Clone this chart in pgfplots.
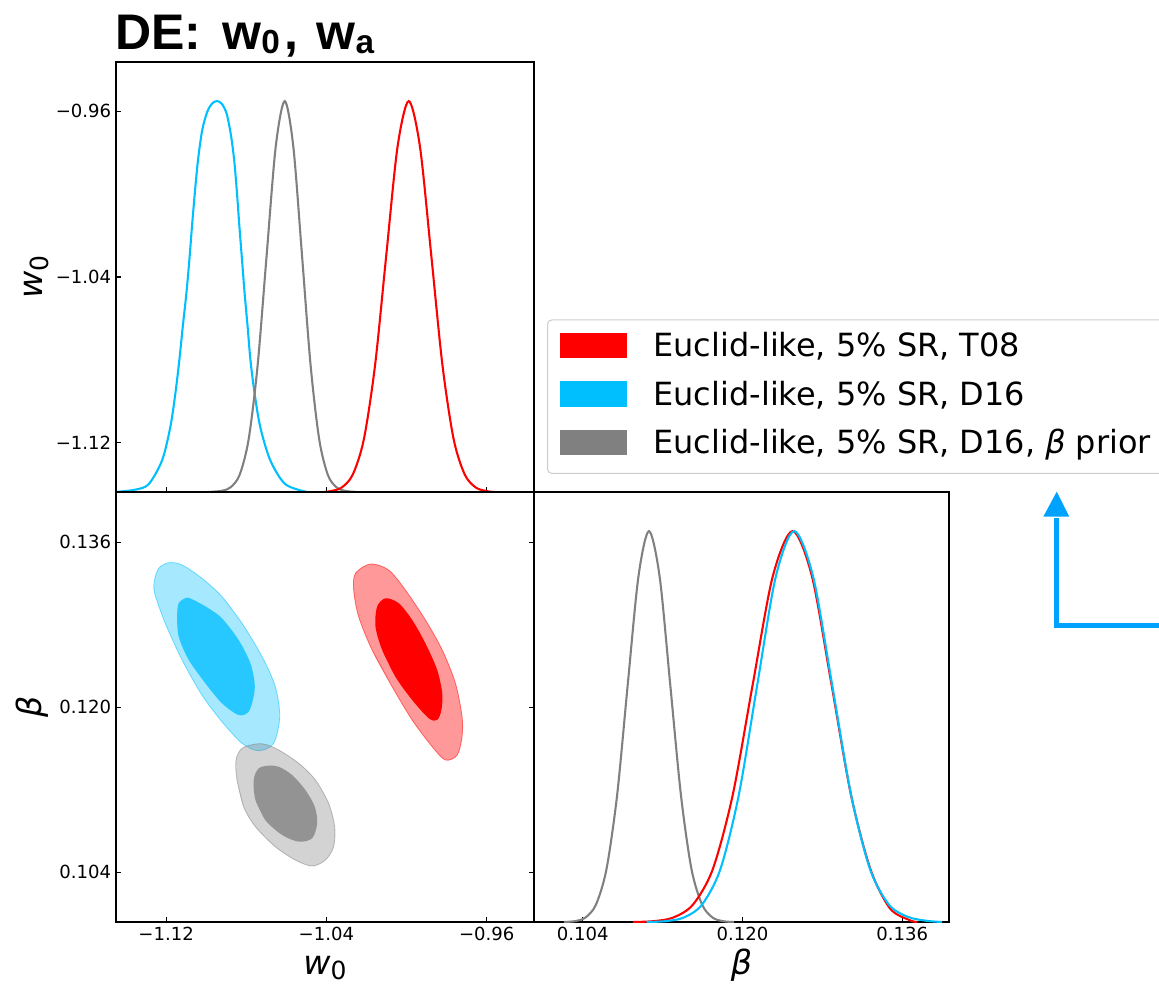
\documentclass[border=0pt]{standalone}
\usepackage{fontspec}
\setmainfont{DejaVu Sans}
\newfontfamily\titlefont{Liberation Sans}
\usepackage{pgfplots}
\pgfplotsset{compat=1.18}

\definecolor{dsblue}{RGB}{0,191,255}
\definecolor{innerblue}{RGB}{38,200,255}
\definecolor{innergray}{RGB}{147,147,147}
\definecolor{legendedge}{RGB}{204,204,204}
\definecolor{arrowblue}{RGB}{0,162,255}

\pgfplotsset{
  cornerpanel/.style={
    scale only axis,
    anchor=south west,
    width=300.96pt, height=309.6pt,
    tick align=inside,
    major tick length=3.6pt,
    major tick style={black, line width=0.8pt},
    axis line style={black, line width=0.8pt},
    tick label style={font=\fontsize{13}{15}\selectfont},
    label style={font=\fontsize{24}{28}\selectfont},
  },
  marg/.style={smooth, line width=1.5pt, forget plot},
}

\newcommand{\wlabel}{\textit{w}\raisebox{-4.2pt}{\fontsize{18}{18}\selectfont 0}}
\newcommand{\legpatch}[1]{\fill[#1] (0pt,-0.35pt) rectangle (47.7pt,17.15pt); \path (67.1pt,0pt);}

\begin{document}
\begin{tikzpicture}
\path[use as bounding box] (0pt,0pt) rectangle (834.48pt,709.2pt);
\clip (0pt,0pt) rectangle (834.48pt,709.2pt);

% title
\node[anchor=base west, inner sep=0pt] at (82.8pt,673.2pt)
  {\titlefont\bfseries\fontsize{36}{40}\selectfont DE:\hspace{15.1pt}w\raisebox{-2.4pt}{\fontsize{24}{26}\selectfont 0}\kern3.6pt,\hspace{13pt}w\raisebox{-2.4pt}{\fontsize{24}{26}\selectfont a}};

% legend frame
\begin{scope}[x=0.72pt, y=0.72pt]
\draw[legendedge, fill=white, line width=0.72pt, rounded corners=3pt]
  (547.5,511.7) rectangle (1180,665);
% corner arrow
\draw[arrowblue, line width=3.6pt, line join=miter]
  (1175,359.2) -- (1056.7,359.2) -- (1056.7,467);
\fill[arrowblue] (1043.3,468.3) -- (1069.3,468.3) -- (1056.7,493.3) -- cycle;
\end{scope}

% ---------- w0 marginal ----------
\begin{axis}[cornerpanel, at={(83.52pt,354.96pt)},
  xmin=-1.145, xmax=-0.9364, ymin=0, ymax=1.1,
  xtick={-1.12,-1.04,-0.96}, xticklabels={,,}, xtick pos=left,
  ytick={0.126,0.55,0.974}, yticklabels={−1.12,−1.04,−0.96}, ytick pos=left,
  ylabel={\wlabel},
  ylabel style={at={(axis description cs:-0.1748,0.5)}, anchor=base},
  legend cell align=left,
  legend style={at={(1.0617,0.370)}, anchor=north west, draw=none, fill=none,
    inner sep=0pt, outer sep=0pt, row sep=12.56pt,
    font=\fontsize{23}{27}\selectfont,
    nodes={inner sep=0pt, anchor=base west, text height=17pt, text depth=5pt}},
]
\addplot[marg, dsblue] coordinates {
(-1.1453,0.000) (-1.1354,0.006) (-1.1287,0.020) (-1.1220,0.081) (-1.1179,0.166)
(-1.1154,0.251) (-1.1134,0.337) (-1.1117,0.422) (-1.1099,0.507) (-1.1084,0.593)
(-1.1071,0.678) (-1.1057,0.763) (-1.1041,0.848) (-1.1020,0.925) (-1.0995,0.972)
(-1.0970,0.994) (-1.0946,1.000) (-1.0922,0.993) (-1.0898,0.968) (-1.0877,0.915)
(-1.0860,0.848) (-1.0846,0.763) (-1.0834,0.678) (-1.0821,0.593) (-1.0808,0.507)
(-1.0793,0.422) (-1.0779,0.337) (-1.0758,0.251) (-1.0730,0.166) (-1.0680,0.081)
(-1.0605,0.020) (-1.0496,0.000)};
\addplot[marg, gray] coordinates {
(-1.0990,0.000) (-1.0923,0.003) (-1.0878,0.012) (-1.0833,0.044) (-1.0788,0.135)
(-1.0743,0.325) (-1.0698,0.607) (-1.0653,0.883) (-1.0608,1.000) (-1.0565,0.883)
(-1.0522,0.607) (-1.0479,0.325) (-1.0436,0.135) (-1.0393,0.044) (-1.0350,0.012)
(-1.0307,0.003) (-1.0250,0.000)};
\addplot[marg, red] coordinates {
(-1.0410,0.000) (-1.0381,0.002) (-1.0325,0.011) (-1.0269,0.044) (-1.0213,0.135)
(-1.0157,0.325) (-1.0101,0.607) (-1.0045,0.883) (-0.9989,1.000) (-0.9933,0.883)
(-0.9877,0.607) (-0.9821,0.325) (-0.9765,0.135) (-0.9709,0.044) (-0.9653,0.011)
(-0.9597,0.002) (-0.9560,0.000)};
\addlegendimage{legend image code/.code={\legpatch{red}}}
\addlegendentry{Euclid-like, 5\% SR, T08}
\addlegendimage{legend image code/.code={\legpatch{dsblue}}}
\addlegendentry{Euclid-like, 5\% SR, D16}
\addlegendimage{legend image code/.code={\legpatch{gray}}}
\addlegendentry{Euclid-like, 5\% SR, D16, \textit{β} prior}
\end{axis}

% ---------- w0 - beta contours ----------
\begin{axis}[cornerpanel, at={(83.52pt,45.36pt)},
  xmin=-1.145, xmax=-0.9364, ymin=0.09918, ymax=0.14088,
  xtick={-1.12,-1.04,-0.96}, xticklabels={−1.12,−1.04,−0.96}, xtick pos=left,
  ytick={0.104,0.120,0.136}, yticklabels={0.104,0.120,0.136},
  ytick pos=both, yticklabel pos=left,
  xlabel={\wlabel},
  xlabel style={at={(axis description cs:0.5,-0.1210)}, anchor=base},
  ylabel={\textit{β}},
  ylabel style={at={(axis description cs:-0.1794,0.5)}, anchor=base},
]
% D16
\addplot[smooth, fill=dsblue, fill opacity=0.35, draw=dsblue, draw opacity=0.5, line width=0.6pt]
coordinates {
(-1.0921,0.13073) (-1.0821,0.12815) (-1.0721,0.12491) (-1.0655,0.12200) (-1.0633,0.11909)
(-1.0663,0.11651) (-1.0738,0.11579) (-1.0821,0.11651) (-1.0921,0.11860) (-1.1021,0.12119)
(-1.1120,0.12459) (-1.1204,0.12815) (-1.1257,0.13106) (-1.1258,0.13230) (-1.1237,0.13348)
(-1.1187,0.13402) (-1.1120,0.13380) (-1.1021,0.13251) (-1.0921,0.13073) (-1.0821,0.12815)};
\addplot[smooth, fill=innerblue, draw=none]
coordinates {
(-1.1087,0.12459) (-1.1004,0.12233) (-1.0921,0.12039) (-1.0838,0.11925) (-1.0788,0.11957)
(-1.0763,0.12103) (-1.0758,0.12233) (-1.0779,0.12427) (-1.0838,0.12653) (-1.0921,0.12863)
(-1.0988,0.12960) (-1.1046,0.13024) (-1.1095,0.13063) (-1.1137,0.13009) (-1.1145,0.12879)
(-1.1137,0.12685) (-1.1087,0.12459) (-1.1004,0.12233)};
% T08
\addplot[smooth, fill=red, fill opacity=0.4, draw=red, draw opacity=0.5, line width=0.6pt]
coordinates {
(-1.0172,0.12556) (-1.0072,0.12200) (-0.9972,0.11877) (-0.9872,0.11618) (-0.9806,0.11489)
(-0.9747,0.11537) (-0.9723,0.11715) (-0.9723,0.11909) (-0.9756,0.12233) (-0.9822,0.12556)
(-0.9906,0.12847) (-1.0006,0.13138) (-1.0089,0.13331) (-1.0180,0.13390) (-1.0255,0.13299)
(-1.0264,0.13138) (-1.0239,0.12879) (-1.0172,0.12556) (-1.0072,0.12200)};
\addplot[smooth, fill=red, draw=none]
coordinates {
(-1.0122,0.12556) (-1.0056,0.12297) (-0.9972,0.12071) (-0.9889,0.11893) (-0.9847,0.11877)
(-0.9826,0.11974) (-0.9822,0.12136) (-0.9847,0.12362) (-0.9906,0.12621) (-0.9972,0.12847)
(-1.0039,0.13009) (-1.0105,0.13057) (-1.0147,0.12976) (-1.0155,0.12782) (-1.0122,0.12556)
(-1.0056,0.12297)};
% D16 with beta prior
\addplot[smooth, fill=gray, fill opacity=0.35, draw=gray, draw opacity=0.5, line width=0.6pt]
coordinates {
(-1.0846,0.11295) (-1.0813,0.11036) (-1.0754,0.10842) (-1.0655,0.10648) (-1.0555,0.10519)
(-1.0471,0.10461) (-1.0405,0.10519) (-1.0364,0.10648) (-1.0359,0.10842) (-1.0389,0.11069)
(-1.0455,0.11295) (-1.0538,0.11457) (-1.0638,0.11586) (-1.0705,0.11641) (-1.0754,0.11644)
(-1.0821,0.11602) (-1.0851,0.11489) (-1.0846,0.11295) (-1.0813,0.11036)};
\addplot[smooth, fill=innergray, draw=none]
coordinates {
(-1.0754,0.11101) (-1.0705,0.10907) (-1.0621,0.10762) (-1.0538,0.10697) (-1.0471,0.10730)
(-1.0446,0.10875) (-1.0458,0.11036) (-1.0505,0.11198) (-1.0571,0.11343) (-1.0638,0.11424)
(-1.0688,0.11434) (-1.0738,0.11408) (-1.0763,0.11295) (-1.0754,0.11101) (-1.0705,0.10907)};
\end{axis}

% ---------- beta marginal ----------
\begin{axis}[cornerpanel, at={(384.48pt,45.36pt)}, width=298.8pt,
  xmin=0.09911, xmax=0.14069, ymin=0, ymax=1.1,
  xtick={0.104,0.120,0.136}, xticklabels={0.104,0.120,0.136}, xtick pos=left,
  ytick=\empty,
  xlabel={\textit{β}},
  xlabel style={at={(axis description cs:0.5,-0.1210)}, anchor=base},
]
\addplot[marg, gray] coordinates {
(0.10211,0.000) (0.10317,0.002) (0.10424,0.011) (0.10531,0.044) (0.10637,0.135)
(0.10744,0.325) (0.10850,0.607) (0.10957,0.883) (0.11063,1.000) (0.11170,0.883)
(0.11276,0.607) (0.11383,0.325) (0.11489,0.135) (0.11596,0.044) (0.11702,0.011)
(0.11809,0.002) (0.11915,0.000)};
\addplot[marg, red] coordinates {
(0.10902,0.000) (0.11102,0.002) (0.11302,0.011) (0.11502,0.044) (0.11702,0.135)
(0.11902,0.325) (0.12102,0.607) (0.12302,0.883) (0.12502,1.000) (0.12697,0.883)
(0.12892,0.607) (0.13087,0.325) (0.13282,0.135) (0.13477,0.035) (0.13672,0.005)
(0.13750,0.000)};
\addplot[marg, dsblue] coordinates {
(0.11040,0.000) (0.11223,0.002) (0.11408,0.011) (0.11593,0.044) (0.11778,0.135)
(0.11963,0.325) (0.12148,0.607) (0.12333,0.883) (0.12518,1.000) (0.12708,0.883)
(0.12898,0.607) (0.13088,0.325) (0.13278,0.135) (0.13468,0.044) (0.13658,0.013)
(0.13848,0.003) (0.14000,0.000)};
\end{axis}
\end{tikzpicture}
\end{document}
